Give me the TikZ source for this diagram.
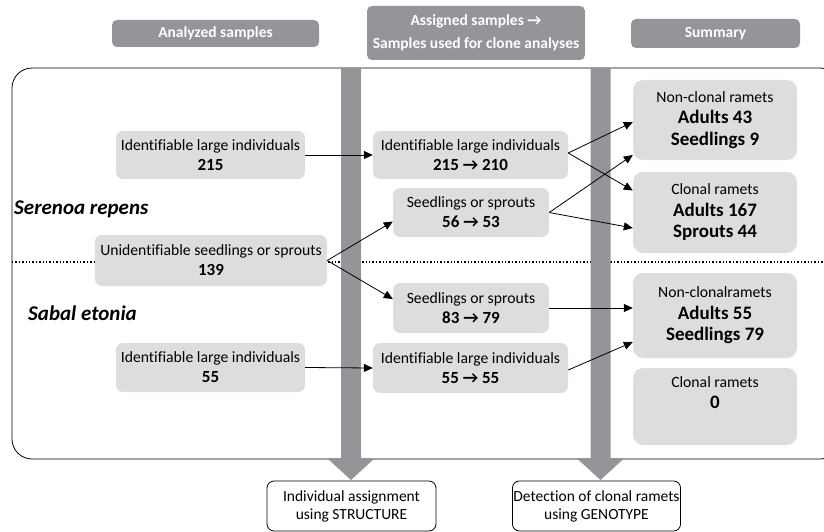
\documentclass[tikz,border=0pt]{standalone}
\usepackage{fontspec}
\setmainfont[Ligatures=NoCommon]{Carlito}
\usetikzlibrary{calc, positioning}
\usetikzlibrary{arrows.meta}

\definecolor{headgray}{HTML}{939598}
\definecolor{boxgray}{HTML}{DCDDDE}

\newcommand{\bignum}[1]{{\fontsize{19}{21}\selectfont\bfseries #1}}
\newcommand{\smallnum}[1]{{\fontsize{17}{20}\selectfont\bfseries #1}}

\tikzset{
  headbox/.style={fill=headgray, text=white, rounded corners=5pt, align=center,
    inner sep=1pt, font=\fontsize{15.5}{23}\selectfont\bfseries},
  samplebox/.style={fill=boxgray, rounded corners=7pt, align=center,
    inner sep=1pt, font=\fontsize{15.7}{20}\selectfont},
  summarybox/.style={samplebox, rounded corners=10pt, font=\fontsize{15.7}{21.5}\selectfont},
  toolbox/.style={draw, fill=white, rounded corners=7pt, align=center,
    inner sep=1pt, line width=0.8pt, font=\fontsize{15.5}{18}\selectfont},
  species/.style={anchor=west, inner sep=0pt, font=\fontsize{21}{24}\selectfont\bfseries\itshape},
  flow/.style={-{Triangle[length=9pt,width=8pt]}, line width=0.8pt},
}

\begin{document}
\begin{tikzpicture}[x=1pt, y=-1pt]
\clip (0,0) rectangle (824,532);

\def\framey{68}
\def\framebot{459}
\def\sepy{262}

% column headers
\node[headbox, minimum width=207pt, minimum height=27pt] (hdA) at (215.5,33.5) {Analyzed samples};
\node[headbox, minimum width=218pt, minimum height=54pt] (hdB) at (476,33)
  {Assigned samples \textrightarrow\\Samples used for clone analyses};
\node[headbox, minimum width=169pt, minimum height=29pt] (hdC) at (715.5,33.5) {Summary};

% frame and species divider
\draw[line width=0.8pt, rounded corners=20pt] (12,\framey) rectangle (840,\framebot);
\draw[line width=1.4pt, dotted] (12,\sepy) -- (824,\sepy);

% process bars
\foreach \bx in {351,600.5}
  \fill[headgray] (\bx-10,\framey) -- (\bx+10,\framey) -- (\bx+10,\framebot-1)
    -- (\bx+24,\framebot-1) -- (\bx,480) -- (\bx-24,\framebot-1) -- (\bx-10,\framebot-1) -- cycle;

\node[species] (srep) at (14,209) {Serenoa repens};
\node[species] (seto) at (28,313) {Sabal etonia};

% analyzed samples
\node[samplebox, minimum width=189pt, minimum height=48pt] (a215) at (210.5,155)
  {Identifiable large individuals\\\smallnum{215}};
\node[samplebox, minimum width=232pt, minimum height=51pt] (a139) at (211,260.5)
  {Unidentifiable seedlings or sprouts\\\smallnum{139}};
\node[samplebox, minimum width=189pt, minimum height=49pt] (a55) at (210.5,367.5)
  {Identifiable large individuals\\\smallnum{55}};

% assigned samples
\node[samplebox, minimum width=195pt, minimum height=48pt] (b210) at (470.5,155)
  {Identifiable large individuals\\\smallnum{215 \textrightarrow\ 210}};
\node[samplebox, minimum width=156pt, minimum height=49pt] (b53) at (471,212.5)
  {Seedlings or sprouts\\\smallnum{56 \textrightarrow\ 53}};
\node[samplebox, minimum width=156pt, minimum height=50pt] (b79) at (471,308)
  {Seedlings or sprouts\\\smallnum{83 \textrightarrow\ 79}};
\node[samplebox, minimum width=195pt, minimum height=50pt] (b55) at (470.5,368)
  {Identifiable large individuals\\\smallnum{55 \textrightarrow\ 55}};

% summary
\node[summarybox, minimum width=164pt, minimum height=80pt] (c1) at (715,120)
  {Non-clonal ramets\\\bignum{Adults 43}\\\bignum{Seedlings 9}};
\node[summarybox, minimum width=164pt, minimum height=81pt] (c2) at (715,212.5)
  {Clonal ramets\\\bignum{Adults 167}\\\bignum{Sprouts 44}};
\node[summarybox, minimum width=164pt, minimum height=85pt] (c3) at (715,315.5)
  {Non-clonalramets\\\bignum{Adults 55}\\\bignum{Seedlings 79}};
\node[summarybox, minimum width=164pt, minimum height=77pt] (c4) at (715,406.5)
  {Clonal ramets\\\bignum{0}\\\bignum{\strut}};

% methods
\node[toolbox, minimum width=169pt, minimum height=50pt] (d1) at (351.5,506)
  {Individual assignment\\using STRUCTURE};
\node[toolbox, minimum width=167pt, minimum height=50pt] (d2) at (596.5,506)
  {Detection of clonal ramets\\using GENOTYPE};

% sample flows
\draw[flow] (a215.east) -- (b210.west);
\draw[flow] (a139.east) -- ($(b53.west)+(0,9)$);
\draw[flow] (a139.east) -- ($(b79.west)+(0,-9)$);
\draw[flow] (a55.east) -- (b55.west);

\draw[flow] ($(b210.east)+(0,-2)$) -- ($(c1.west)+(0,2)$);
\draw[flow] ($(b210.east)+(0,-2)$) -- ($(c2.west)+(0,-22)$);
\draw[flow] (b53.east) -- ($(c1.west)+(0,35)$);
\draw[flow] (b53.east) -- ($(c2.west)+(0,15.5)$);
\draw[flow] (b79.east) -- (b79.east -| c3.west);
\draw[flow] ($(b55.east)+(0,2)$) -- ($(c3.west)+(0,26.5)$);
\end{tikzpicture}
\end{document}
